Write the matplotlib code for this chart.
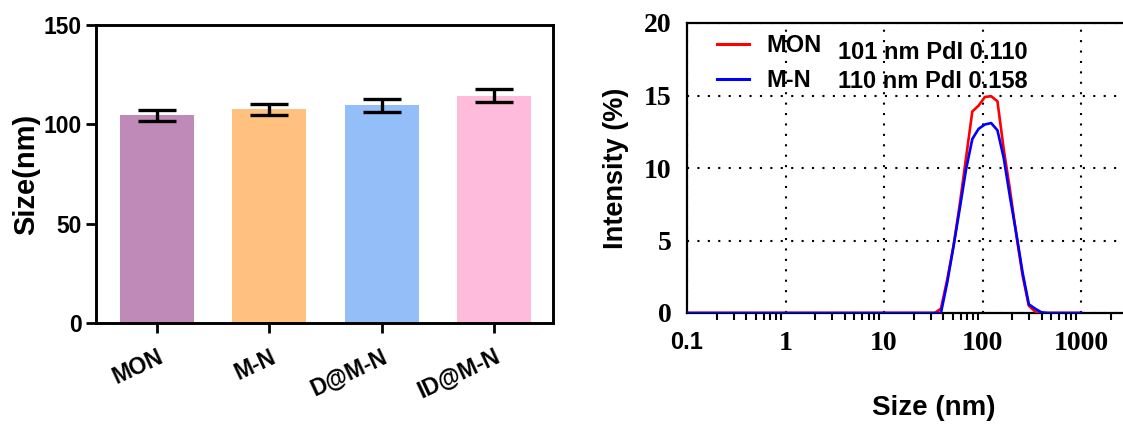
import matplotlib
matplotlib.use('Agg')
import matplotlib.pyplot as plt
from matplotlib.lines import Line2D
from matplotlib.ticker import LogLocator, NullFormatter, FixedLocator

plt.rcParams['font.family'] = ['Liberation Sans', 'DejaVu Sans']
plt.rcParams['font.weight'] = 'bold'

# ---- left panel data ----
categories = ['MON', 'M-N', 'D@M-N', 'ID@M-N']
size_mean = [104.5, 107.5, 109.6, 114.5]
size_err = [2.7, 2.7, 3.3, 3.3]
bar_colors = ['#C08AB8', '#FFC080', '#93BEF7', '#FFBBDC']

# ---- right panel data (DLS intensity distribution) ----
dls_size = [0.1, 1, 10, 32.67, 37.84, 43.82, 50.75, 58.77, 68.06, 78.82, 91.28,
            105.7, 122.4, 141.8, 164.2, 190.1, 220.2, 255.0, 295.3, 342.0,
            396.1, 458.7, 1000]
mon_intensity = [0, 0, 0, 0, 0.3, 2.3, 4.6, 7.5, 10.7, 13.9, 14.3,
                 14.9, 14.95, 14.6, 11.3, 8.5, 5.4, 2.6, 0.5, 0.1,
                 0, 0, 0]
mn_intensity = [0, 0, 0, 0, 0, 2.1, 4.6, 7.2, 9.9, 12.0, 12.7,
                13.0, 13.1, 12.6, 10.7, 8.0, 5.5, 2.8, 0.6, 0.3,
                0.05, 0, 0]
series_labels = ['MON', 'M-N']
series_colors = ['#FF0000', '#0000FF']
pdi_texts = ['101 nm PdI 0.110', '110 nm PdI 0.158']
x_major = [0.1, 1, 10, 100, 1000]
x_major_labels = ['0.1', '1', '10', '100', '1000']
y_ticks_right = [0, 5, 10, 15, 20]

W, H = 1123, 424
fig = plt.figure(figsize=(W / 100, H / 100), dpi=100)

# ================= left panel =================
ax1 = fig.add_axes([96 / W, (H - 323) / H, (553 - 96) / W, (323 - 25) / H])
xs = list(range(len(categories)))
ax1.bar(xs, size_mean, width=0.66, color=bar_colors, zorder=2)
ax1.errorbar(xs, size_mean, yerr=size_err, fmt='none', ecolor='black',
             elinewidth=2.4, capsize=14, capthick=2.4, zorder=3)
ax1.set_xlim(-0.543, 3.525)
ax1.set_ylim(0, 150)
ax1.set_yticks([0, 50, 100, 150])
ax1.set_xticks(xs)
ax1.set_xticklabels(categories, rotation=25, ha='right', va='top',
                    rotation_mode='anchor', fontsize=16.5, fontweight='bold')
for lab in ax1.get_yticklabels():
    lab.set_fontsize(16.5)
    lab.set_fontweight('bold')
ax1.tick_params(axis='both', direction='out', length=7, width=2, pad=3)
ax1.tick_params(axis='x', pad=9)
for sp in ax1.spines.values():
    sp.set_linewidth(2.1)
ax1.set_ylabel('Size(nm)', fontsize=21, fontweight='bold', labelpad=3)

# ================= right panel =================
ax2 = fig.add_axes([687 / W, (H - 313) / H, (1179.5 - 687) / W, (313 - 23) / H])
ax2.set_xscale('log')
for ys, col, lab in zip([mon_intensity, mn_intensity], series_colors, series_labels):
    ax2.plot(dls_size, ys, color=col, lw=1.9, label=lab, zorder=3)
ax2.set_xlim(0.1, 10000)
ax2.set_ylim(0, 20)
ax2.xaxis.set_major_locator(FixedLocator(x_major))
ax2.set_xticklabels(x_major_labels)
ax2.xaxis.set_minor_locator(LogLocator(base=10, subs=range(2, 10), numticks=20))
ax2.xaxis.set_minor_formatter(NullFormatter())
ax2.set_yticks(y_ticks_right)
ax2.tick_params(axis='x', which='major', length=0, pad=13)
ax2.tick_params(axis='x', which='minor', direction='out', length=5, width=1.5)
ax2.tick_params(axis='y', which='major', length=0, pad=11)
for lab in ax2.get_xticklabels() + ax2.get_yticklabels():
    lab.set_fontfamily('Liberation Serif')
    lab.set_fontweight('bold')
    lab.set_fontsize(20)
first = ax2.get_xticklabels()[0]
first.set_fontfamily('Liberation Sans')
first.set_fontsize(17)
ax2.grid(True, which='major', color='black', linestyle=(0, (1, 4)), linewidth=1.5)
ax2.spines['right'].set_visible(False)
for s in ['left', 'top', 'bottom']:
    ax2.spines[s].set_linewidth(1.6)
ax2.set_ylabel('Intensity (%)', fontsize=19.5, fontweight='bold', labelpad=11)
ax2.set_xlabel('Size (nm)', fontsize=20, fontweight='bold', labelpad=28)

handles = [Line2D([], [], color=c, lw=2.2) for c in series_colors]
ax2.legend(handles, series_labels, loc='upper left', frameon=False,
           bbox_to_anchor=(0.061, 0.961), borderaxespad=0, borderpad=0,
           handlelength=1.35, handletextpad=0.76, labelspacing=0.51,
           prop={'family': 'Liberation Sans', 'weight': 'bold', 'size': 17})
for t, yfrac in zip(pdi_texts, [0.897, 0.800]):
    ax2.text(0.3066, yfrac, t, transform=ax2.transAxes, ha='left', va='center',
             fontsize=17, fontweight='bold', zorder=4)

fig.savefig('out.png', dpi=100)
